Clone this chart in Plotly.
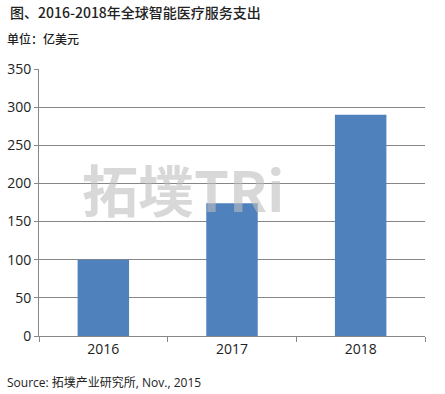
import plotly.graph_objects as go

years = ["2016", "2017", "2018"]
spend = [100, 174, 290]
y_ticks = [0, 50, 100, 150, 200, 250, 300, 350]

W, H = 445, 394
L, R, T, B = 39, 20, 69, 58
pw, ph = W - L - R, H - T - B

def px(x):
    return (x - L) / pw

def py(y):
    return (H - B - y) / ph

fig = go.Figure()
fig.add_trace(go.Bar(x=years, y=spend, marker=dict(color="#4F81BD", line=dict(width=0)),
                     width=0.4, hoverinfo="skip"))

fig.update_layout(
    width=W, height=H,
    margin=dict(l=L, r=R, t=T, b=B, autoexpand=False),
    plot_bgcolor="white", paper_bgcolor="white",
    showlegend=False,
    font=dict(family="Open Sans, Noto Sans CJK SC", color="#222222"),
    xaxis=dict(showline=True, linecolor="#888888", linewidth=1, automargin=False,
               ticks="outside", tickson="boundaries", ticklen=5, tickcolor="#888888",
               tickfont=dict(size=14, family="Open Sans", color="#222222"),
               showgrid=False),
    yaxis=dict(range=[0, 350], tickvals=y_ticks, showline=True, linecolor="#888888",
               linewidth=1, ticks="outside", ticklen=4, tickcolor="#888888", automargin=False,
               showgrid=True, gridcolor="#868686", gridwidth=1,
               tickfont=dict(size=14, family="Open Sans", color="#222222"),
               zeroline=False),
)

# watermark
fig.add_annotation(x=px(80), y=py(187), xref="paper", yref="paper", xanchor="left", yanchor="middle",
                   text="<b>拓墣TRi</b>", showarrow=False,
                   font=dict(size=56, family="Noto Sans CJK SC", color="rgba(190,190,190,0.6)"))

fig.add_annotation(x=px(8), y=py(12), xref="paper", yref="paper", xanchor="left", yanchor="middle",
                   text="图、2016-2018年全球智能医疗服务支出", showarrow=False,
                   font=dict(size=14, family="Noto Sans CJK SC", weight=500, color="#222222"))
fig.add_annotation(x=px(5), y=py(39), xref="paper", yref="paper", xanchor="left", yanchor="middle",
                   text="单位：亿美元", showarrow=False,
                   font=dict(size=12, family="Noto Sans CJK SC", weight=500, color="#222222"))
fig.add_annotation(x=px(5), y=py(382), xref="paper", yref="paper", xanchor="left", yanchor="middle",
                   text="Source: 拓墣产业研究所, Nov., 2015", showarrow=False,
                   font=dict(size=12, family="Open Sans, Noto Sans CJK SC", color="#222222"))

fig.write_html("out.html", config={"displayModeBar": False},
               post_script="document.body.style.margin='0';document.body.style.overflow='hidden';")
